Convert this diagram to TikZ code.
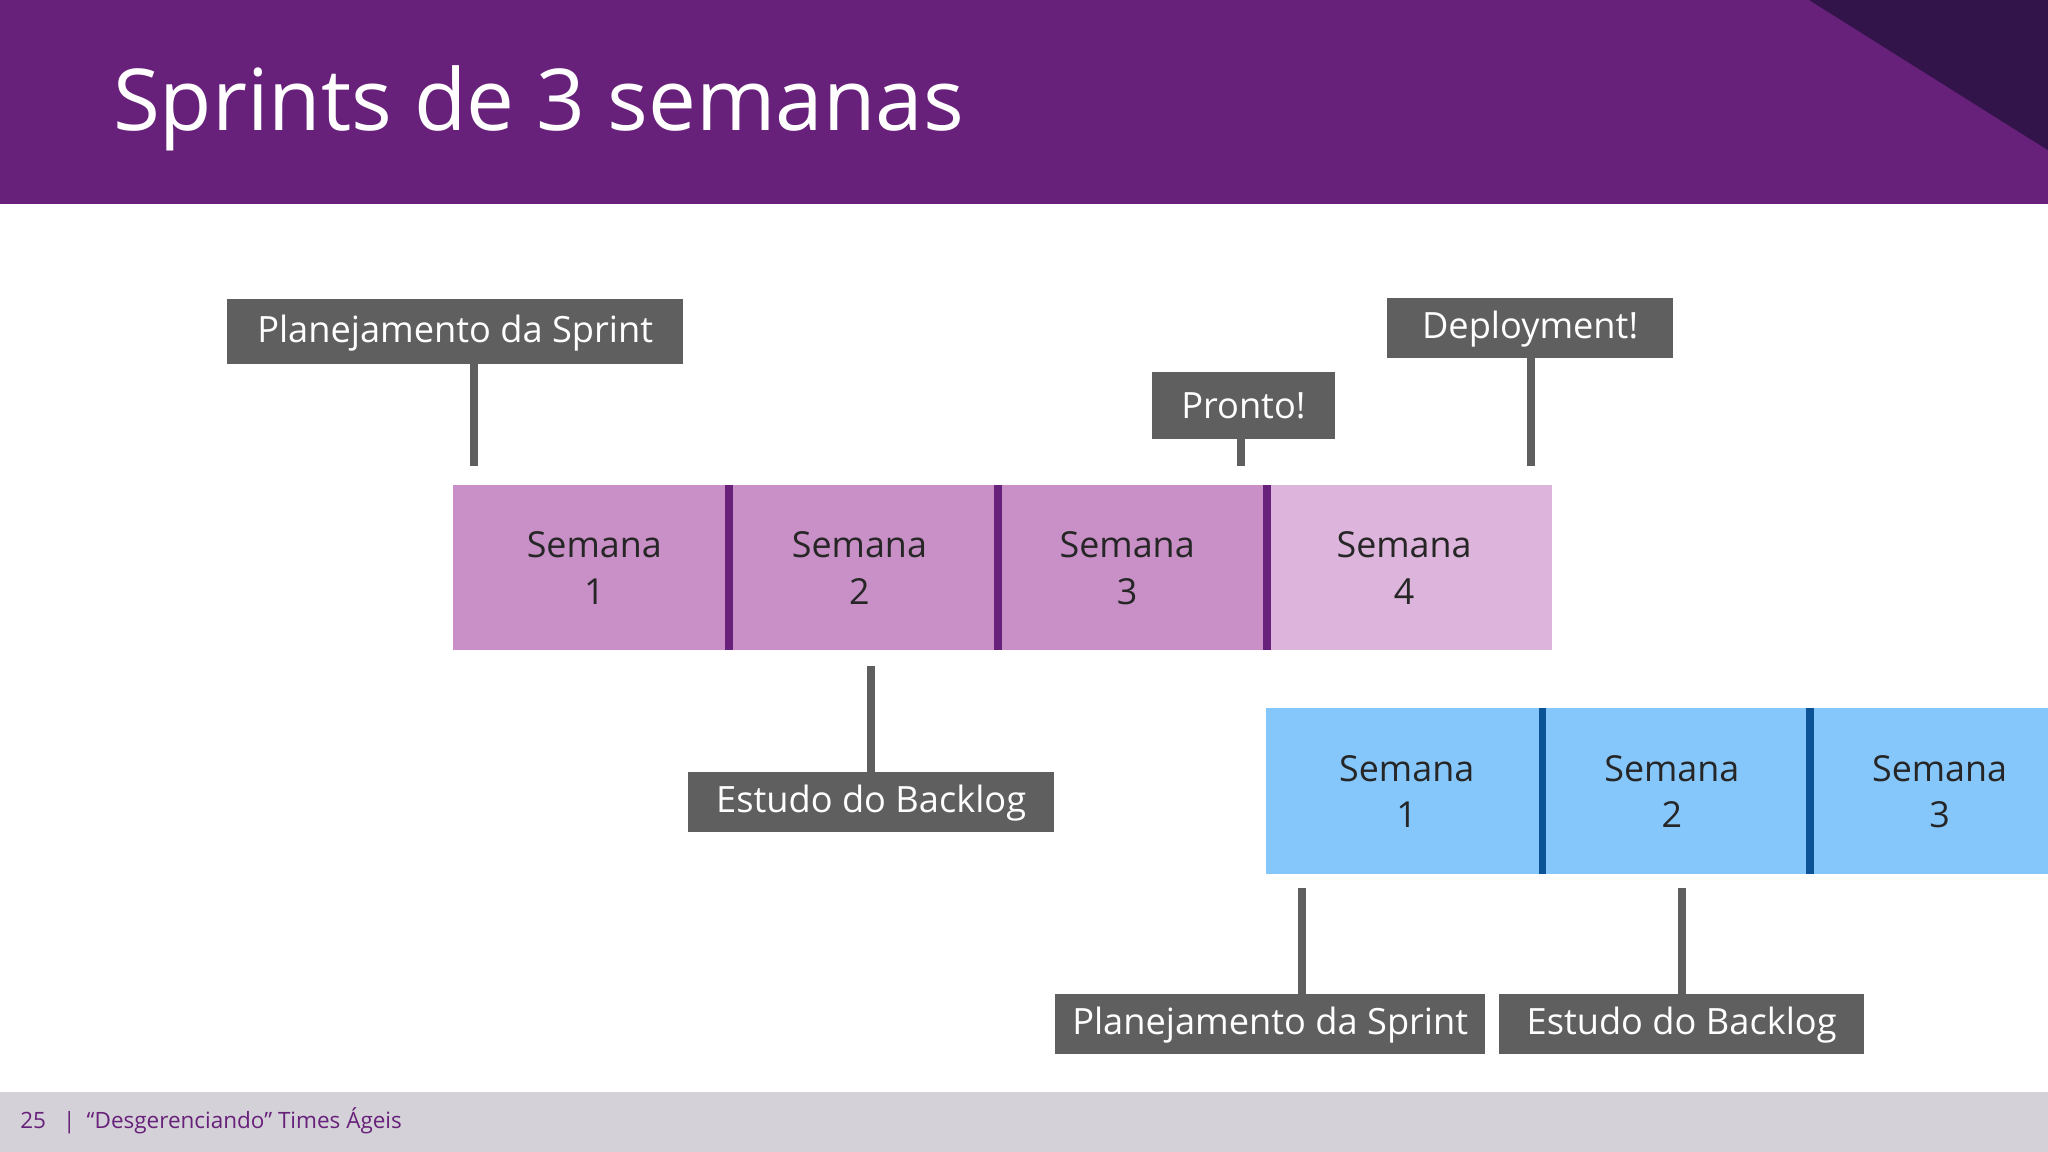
\documentclass[tikz,border=0pt]{standalone}
\usepackage{fontspec}
\setmainfont{Open Sans}
\definecolor{hdr}{HTML}{68217A}
\definecolor{hdrdark}{HTML}{32144A}
\definecolor{foot}{HTML}{D4D2D8}
\definecolor{wk}{HTML}{C890C6}
\definecolor{wklight}{HTML}{DDB4DB}
\definecolor{bl}{HTML}{85C6FB}
\definecolor{bldiv}{HTML}{0B5394}
\definecolor{lbl}{HTML}{5F5F5F}
\tikzset{
  lbltext/.style={text=white,font=\fontsize{10.3}{12}\selectfont,inner sep=0pt},
  stem/.style={draw=lbl,line width=2.2pt},
  wtext/.style={font=\fontsize{10.2}{13.2}\selectfont,align=center,text=black!85}
}
\begin{document}
\begin{tikzpicture}[x=0.013061cm,y=-0.013061cm]
\useasboundingbox (0,0) rectangle (1568,882);
\fill[white] (0,0) rectangle (1568,882);
\fill[hdr] (0,0) rectangle (1568,156);
\fill[hdrdark] (1385,0) -- (1568,0) -- (1568,115) -- cycle;
\node[anchor=base west,text=white,font=\fontsize{24.3}{28}\selectfont,inner sep=0pt] (title) at (86,100) {Sprints de 3 semanas};
\fill[foot] (0,836) rectangle (1568,882);
\node[anchor=west,text=hdr,font=\fontsize{6.4}{8}\selectfont,inner sep=0pt] (footer) at (15,858) {25 \enspace|\enspace “Desgerenciando” Times Ágeis};
% purple weeks
\fill[wk] (347,371) rectangle (969,498);
\fill[wklight] (969,371) rectangle (1188,498);
\foreach \x in {558,764,970} \fill[hdr] (\x-3,371) rectangle (\x+3,498);
\node[wtext] (p1) at (455,435) {Semana\\1};
\node[wtext] (p2) at (658,435) {Semana\\2};
\node[wtext] (p3) at (863,435) {Semana\\3};
\node[wtext] (p4) at (1075,435) {Semana\\4};
% blue weeks
\fill[bl] (969,542) rectangle (1568,669);
\foreach \x in {1181,1386} \fill[bldiv] (\x-3,542) rectangle (\x+3,669);
\node[wtext] (b1) at (1077,606) {Semana\\1};
\node[wtext] (b2) at (1280,606) {Semana\\2};
\node[wtext] (b3) at (1485,606) {Semana\\3};
% stems
\coordinate (s1a) at (363,279); \coordinate (s1b) at (363,357);
\coordinate (s2a) at (1172,274); \coordinate (s2b) at (1172,357);
\coordinate (s3a) at (950,336); \coordinate (s3b) at (950,357);
\coordinate (s4a) at (667,510); \coordinate (s4b) at (667,591);
\coordinate (s5a) at (997,680); \coordinate (s5b) at (997,761);
\coordinate (s6a) at (1288,680); \coordinate (s6b) at (1288,761);
\foreach \i in {1,...,6} \draw[stem] (s\i a) -- (s\i b);
% labels
\fill[lbl] (174,229) rectangle (523,279);
\node[lbltext] (l1) at (348.5,255) {Planejamento da Sprint};
\fill[lbl] (1062,228) rectangle (1281,274);
\node[lbltext] (l2) at (1171.5,252) {Deployment!};
\fill[lbl] (882,285) rectangle (1022,336);
\node[lbltext] (l3) at (952,311) {Pronto!};
\fill[lbl] (527,591) rectangle (807,637);
\node[lbltext] (l4) at (667,615) {Estudo do Backlog};
\fill[lbl] (808,761) rectangle (1137,807);
\node[lbltext] (l5) at (972.5,785) {Planejamento da Sprint};
\fill[lbl] (1148,761) rectangle (1427,807);
\node[lbltext] (l6) at (1287.5,785) {Estudo do Backlog};
\end{tikzpicture}
\end{document}
